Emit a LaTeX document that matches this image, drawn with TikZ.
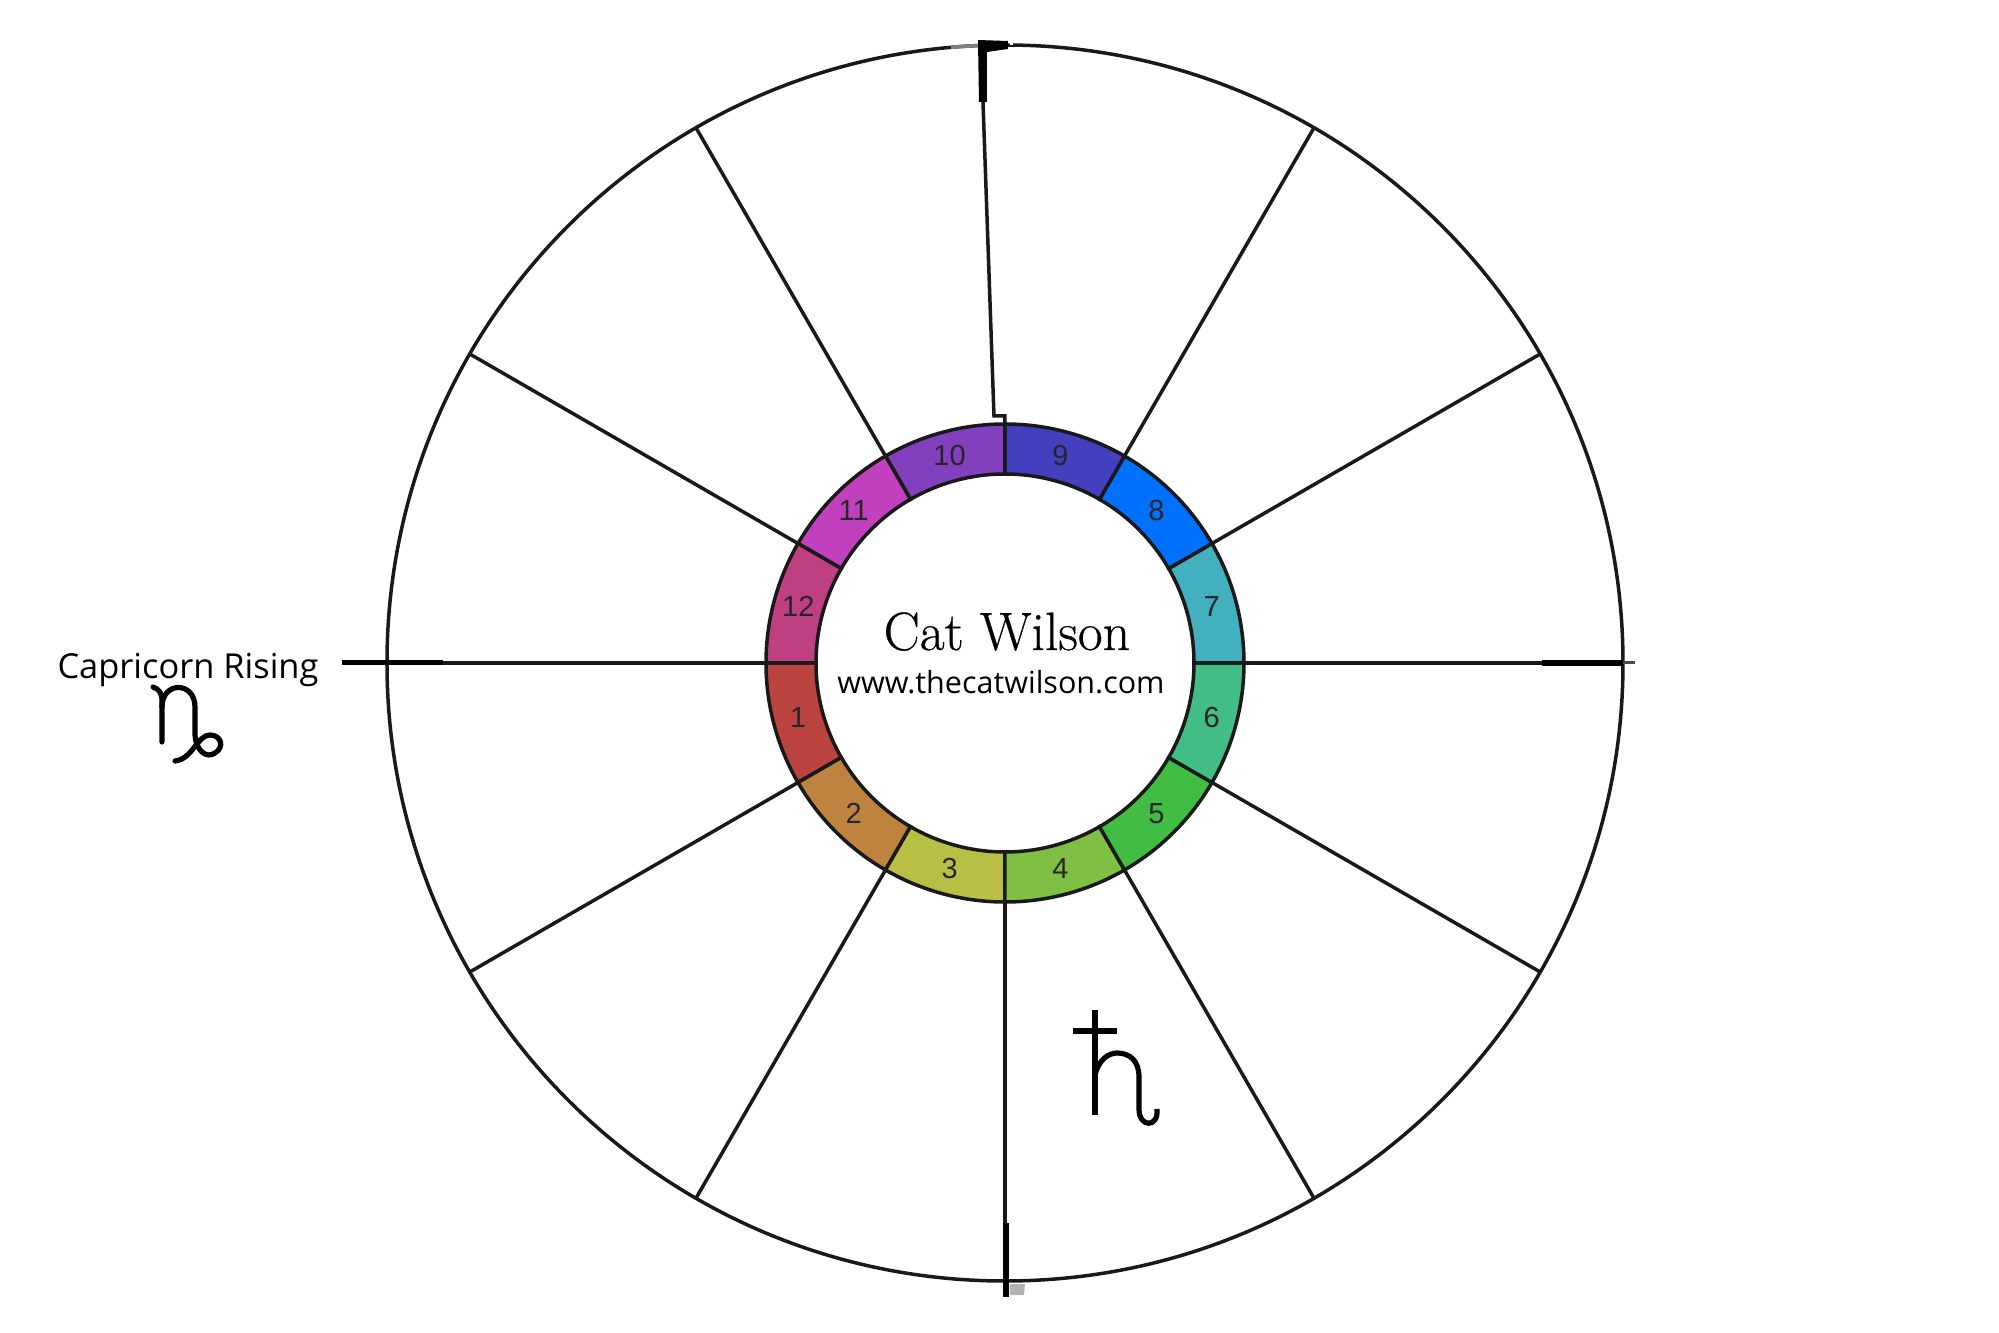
\documentclass[tikz,border=0pt]{standalone}
\usepackage{fontspec}
\setmainfont{Open Sans}
\newfontfamily\numfont{Liberation Sans}
\newfontfamily\namefont[FakeBold=0.5]{Latin Modern Roman}
\definecolor{sec1}{HTML}{BC4440}
\definecolor{sec2}{HTML}{BE843F}
\definecolor{sec3}{HTML}{B9BF44}
\definecolor{sec4}{HTML}{7EBF44}
\definecolor{sec5}{HTML}{42BD44}
\definecolor{sec6}{HTML}{42BD84}
\definecolor{sec7}{HTML}{42B0BE}
\definecolor{sec8}{HTML}{0071FF}
\definecolor{sec9}{HTML}{4240BE}
\definecolor{sec10}{HTML}{823FBE}
\definecolor{sec11}{HTML}{C040BE}
\definecolor{sec12}{HTML}{BE4080}
\tikzset{
  wheelline/.style={line width=1.75pt, black!90},
  glyph/.style={line width=2.6pt, line cap=round, black},
  numlabel/.style={font=\numfont\fontsize{14.5}{14.5}\selectfont, text=black!85, inner sep=0pt}
}

\begin{document}
\begin{tikzpicture}[x=0.5pt,y=0.5pt]
  \useasboundingbox (-1005,-670) rectangle (994,663);
  \fill[white] (-1005,-670) rectangle (994,663);
  % sign ring
  \foreach \n in {1,...,12} {
    \pgfmathsetmacro{\a}{150+30*\n}
    \filldraw[wheelline, fill=sec\n]
      (\a:189) -- (\a:239) arc[start angle=\a, delta angle=30, radius=239]
      -- (\a+30:189) arc[start angle=\a+30, delta angle=-30, radius=189] -- cycle;
    \node[numlabel, yshift=0.5pt] (num\n) at (\a+15:214) {\n};
  }
  % outer wheel
  \draw[wheelline] (0,0) circle (618);
  \foreach \a in {0,30,60,120,150,180,210,240,270,300,330}
    \draw[wheelline] (\a:239) -- (\a:618);
  \draw[wheelline] (0,239) -- (0,247) -- (-11,247) -- (-22,561);
  % angle ticks
  \draw[gray, line width=1.75pt] (92:618) arc[start angle=92, delta angle=3, radius=618];
  \draw[white, line width=2pt] (5,620) -- ++(3,0);
  \fill[black] (-27,623) -- (3,622) -- (3,614) -- (-18,611) -- (-18,561) -- (-26,561) -- cycle;
  \draw[black, line width=2.5pt] (-663,0) -- (-562,0);
  \draw[black, line width=3pt] (537,0) -- (618,0);
  \draw[black!70, line width=1.5pt] (618,0) -- (630,0);
  \draw[black, line width=3pt] (1,-560) -- (1,-634);
  \fill[black!30] (5,-621) -- (20,-621) -- (19,-632) -- (5,-632) -- cycle;
  % centre text
  \node[font=\namefont\fontsize{27}{27}\selectfont, anchor=base, inner sep=0pt] (namelabel) at (2,13) {Cat Wilson};
  \node[font=\fontsize{15.25}{15.25}\selectfont, anchor=base, inner sep=0pt] (weblabel) at (-4,-31) {www.thecatwilson.com};
  \node[font=\fontsize{17.2}{17.2}\selectfont, anchor=base, inner sep=0pt] (risinglabel) at (-817,-16) {Capricorn Rising};
  % capricorn
  \draw[glyph] (-852,-24) .. controls (-846,-26) and (-843,-30) .. (-843,-38) -- (-843,-79);
  \draw[glyph] (-843,-44) .. controls (-843,-18) and (-810,-18) .. (-810,-44) -- (-810,-70)
    .. controls (-810,-88) and (-798,-96) .. (-790,-90)
    .. controls (-780,-84) and (-784,-72) .. (-795,-72)
    .. controls (-808,-72) and (-812,-96) .. (-830,-98);
  % saturn
  \draw[glyph, line cap=butt] (90,-347) -- (90,-452);
  \draw[glyph, line cap=butt] (68,-368) -- (112,-368);
  \draw[glyph, line cap=butt] (90,-412) .. controls (94,-396) and (104,-390) .. (112,-390)
    .. controls (125,-390) and (134,-398) .. (134,-414) -- (134,-446)
    .. controls (134,-465) and (154,-465) .. (152,-446);
\end{tikzpicture}
\end{document}
